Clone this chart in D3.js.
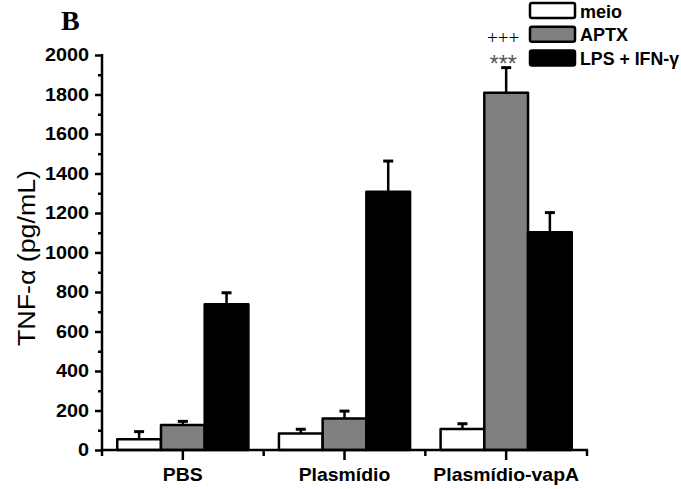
<!DOCTYPE html>
<html><head><meta charset="utf-8">
<script src="https://cdn.jsdelivr.net/npm/d3@7"></script>
<style>body{margin:0;background:#fff}svg{display:block}</style>
</head><body>
<script>
const categories = ["PBS", "Plasmídio", "Plasmídio-vapA"];
const seriesNames = ["meio", "APTX", "LPS + IFN-γ"];
const seriesColors = ["#ffffff", "#808080", "#000000"];
const meioValues = [55, 84, 106];
const meioErrors = [38, 21, 27];
const aptxValues = [127, 160, 1809];
const aptxErrors = [18, 37, 127];
const lpsValues = [738, 1308, 1102];
const lpsErrors = [58, 155, 100];
const yMajorTicks = [0, 200, 400, 600, 800, 1000, 1200, 1400, 1600, 1800, 2000];
const yMinorTicks = [100, 300, 500, 700, 900, 1100, 1300, 1500, 1700, 1900];

const values = [meioValues, aptxValues, lpsValues];
const errors = [meioErrors, aptxErrors, lpsErrors];

const W = 681, H = 489;
const svg = d3.select("body").append("svg").attr("width", W).attr("height", H);
const FONT = "Liberation Sans, Arial, sans-serif";

const y = d3.scaleLinear().domain([0, 2000]).range([450, 55]);
const x0 = d3.scaleBand().domain(categories).range([102, 587]).paddingInner(0).paddingOuter(0);
const x1 = d3.scaleBand().domain(seriesNames).range([0, x0.bandwidth()]).paddingInner(0).paddingOuter(0.349);

const data = [];
categories.forEach((c, i) => {
  seriesNames.forEach((s, j) => {
    data.push({cat: c, ser: s, j: j, v: values[j][i], e: errors[j][i]});
  });
});

// error bars
const eb = svg.append("g");
data.forEach(d => {
  const cx = x0(d.cat) + x1(d.ser) + x1.bandwidth() / 2;
  eb.append("line").attr("x1", cx).attr("x2", cx)
    .attr("y1", y(d.v)).attr("y2", y(d.v + d.e))
    .attr("stroke", "#000").attr("stroke-width", 2.5);
  eb.append("line").attr("x1", cx - 5).attr("x2", cx + 5)
    .attr("y1", y(d.v + d.e)).attr("y2", y(d.v + d.e))
    .attr("stroke", "#000").attr("stroke-width", 3);
});

// bars
svg.append("g").selectAll("rect").data(data).join("rect")
  .attr("x", d => x0(d.cat) + x1(d.ser))
  .attr("y", d => y(d.v))
  .attr("width", x1.bandwidth())
  .attr("height", d => y(0) - y(d.v))
  .attr("fill", d => seriesColors[d.j])
  .attr("stroke", "#000").attr("stroke-width", 2.5)
  .attr("stroke-linejoin", "round");

// y axis
const yAxis = svg.append("g").attr("transform", "translate(102,0)")
  .call(d3.axisLeft(y).tickValues(yMajorTicks).tickSize(7).tickPadding(6).tickFormat(d3.format("d")));
yAxis.select(".domain").remove();
yAxis.selectAll(".tick line").attr("stroke", "#000").attr("stroke-width", 2.5);
yAxis.selectAll(".tick text").attr("font-family", FONT)
  .attr("font-weight", "bold").attr("font-size", 18).attr("fill", "#000")
  .attr("transform", "scale(1.1,1)").attr("x", -13 / 1.1);
const yMinor = svg.append("g").attr("transform", "translate(102,0)")
  .call(d3.axisLeft(y).tickValues(yMinorTicks).tickSize(4).tickFormat(""));
yMinor.select(".domain").remove();
yMinor.selectAll(".tick line").attr("stroke", "#000").attr("stroke-width", 2.5);
svg.append("line").attr("x1", 102).attr("x2", 102).attr("y1", y(2000) - 1).attr("y2", 456)
  .attr("stroke", "#000").attr("stroke-width", 2.5);

// x axis
const xAxis = svg.append("g").attr("transform", "translate(0,450)")
  .call(d3.axisBottom(x0).tickSize(10).tickPadding(8));
xAxis.select(".domain").remove();
xAxis.selectAll(".tick line").attr("stroke", "#000").attr("stroke-width", 2.5);
xAxis.selectAll(".tick text").attr("font-family", FONT)
  .attr("font-weight", "bold").attr("font-size", 18).attr("fill", "#000")
  .attr("transform", "scale(1.08,1)");
svg.append("line").attr("x1", 101).attr("x2", 588).attr("y1", 450).attr("y2", 450)
  .attr("stroke", "#000").attr("stroke-width", 2.5);
const boundaries = categories.map(c => x0(c)).concat([x0(categories[categories.length - 1]) + x0.bandwidth()]);
svg.append("g").selectAll("line").data(boundaries.slice(1)).join("line")
  .attr("x1", d => d).attr("x2", d => d).attr("y1", 450).attr("y2", 456)
  .attr("stroke", "#000").attr("stroke-width", 2.5);

// y title
svg.append("text").attr("transform", "translate(35,258) rotate(-90)")
  .attr("text-anchor", "middle")
  .attr("font-family", FONT).attr("font-size", 23)
  .attr("textLength", 176).attr("lengthAdjust", "spacingAndGlyphs")
  .text("TNF-α (pg/mL)");

// panel letter
svg.append("text").attr("x", 61).attr("y", 30)
  .attr("font-family", "Liberation Serif, Times New Roman, serif").attr("font-weight", "bold")
  .attr("font-size", 28).text("B");

// legend
const leg = svg.append("g");
seriesNames.forEach((s, j) => {
  const yy = 3 + j * 23.7;
  leg.append("rect").attr("x", 530).attr("y", yy).attr("width", 45).attr("height", 15)
    .attr("rx", 2).attr("fill", seriesColors[j]).attr("stroke", "#000").attr("stroke-width", 2.5);
  leg.append("text").attr("x", 580).attr("y", yy + 14.5)
    .attr("font-family", FONT).attr("font-weight", "bold")
    .attr("font-size", 18).attr("textLength", j === 2 ? 99 : null)
    .attr("lengthAdjust", "spacingAndGlyphs").text(s);
});

// significance marks above APTX / Plasmídio-vapA
const sigX = x0(categories[2]) + x1(seriesNames[1]) + x1.bandwidth() / 2;
const sigTop = y(aptxValues[2] + aptxErrors[2]);
svg.append("text").attr("x", sigX - 3).attr("y", sigTop - 24).attr("text-anchor", "middle")
  .attr("font-family", "Liberation Serif, serif").attr("font-size", 19).attr("fill", "#000").text("+++");
svg.append("text").attr("x", sigX - 3).attr("y", sigTop + 4).attr("text-anchor", "middle")
  .attr("font-family", "Liberation Sans, sans-serif").attr("font-size", 23).attr("fill", "#555").text("***");
</script>
</body></html>
